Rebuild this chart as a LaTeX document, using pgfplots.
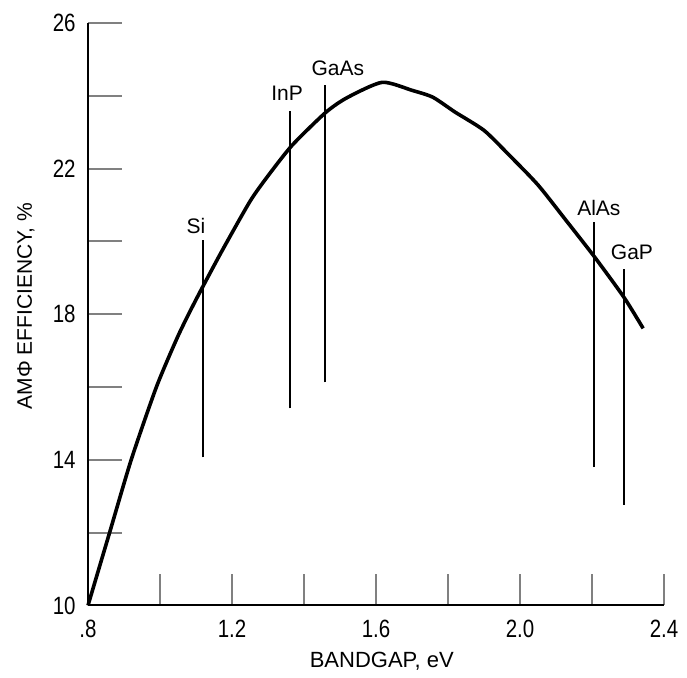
\documentclass[border=0pt]{standalone}
\usepackage{fontspec}
\setmainfont{Liberation Sans}
\newfontfamily\cond[FakeStretch=0.82]{Liberation Sans}
\usepackage{pgfplots}
\pgfplotsset{compat=1.18}

\begin{document}
\begin{tikzpicture}
\begin{axis}[
  scale only axis,
  width=288pt, height=291.2pt,
  xmin=0.8, xmax=2.4, ymin=10, ymax=26,
  axis x line=bottom, axis y line=left,
  axis line style={-, line width=1pt},
  tick align=inside,
  xtick={0.8,1.0,...,2.41},
  xticklabels={.8,,1.2,,1.6,,2.0,,2.4},
  ytick={10,12,...,26},
  yticklabels={10,,14,,18,,22,,26},
  xtick style={line width=1pt, /pgfplots/major tick length=15.5pt},
  ytick style={line width=1pt, /pgfplots/major tick length=17pt},
  ticklabel style={font=\cond\fontsize{12.5}{14}\selectfont},
  xticklabel style={inner sep=0pt, anchor=north, yshift=-7pt},
  yticklabel style={inner sep=0pt, anchor=east, xshift=-6pt},
  xlabel={BANDGAP, eV},
  ylabel={AMΦ EFFICIENCY, \%},
  xlabel style={font=\fontsize{11}{13}\selectfont, at={(rel axis cs:0.51,0)}, anchor=center, yshift=-28pt},
  ylabel style={font=\fontsize{10.5}{12}\selectfont, at={(rel axis cs:0,0.514)}, anchor=center, yshift=31pt},
  clip=false,
]
% efficiency curve
\addplot[black, line width=1.8pt, smooth, tension=0.4] coordinates {
(0.80,10.0) (0.86,12.0) (0.92,14.0) (0.99,16.0) (1.05,17.4) (1.10,18.4)
(1.17,19.7) (1.25,21.1) (1.30,21.8) (1.367,22.64) (1.46,23.54) (1.52,23.95)
(1.617,24.37) (1.70,24.15) (1.758,23.96) (1.82,23.55) (1.90,23.05)
(1.97,22.37) (2.05,21.55) (2.13,20.55) (2.208,19.56) (2.289,18.46) (2.342,17.61)
};
% material bandgaps
\addplot[black, line width=0.9pt] coordinates {(1.12,14.07) (1.12,20.03)};
\addplot[black, line width=0.9pt] coordinates {(1.36,15.41) (1.36,23.57)};
\addplot[black, line width=0.9pt] coordinates {(1.458,16.13) (1.458,24.31)};
\addplot[black, line width=0.9pt] coordinates {(2.205,13.8) (2.205,20.52)};
\addplot[black, line width=0.9pt] coordinates {(2.288,12.77) (2.288,19.23)};
\node[font=\fontsize{10.5}{12}\selectfont] at (axis cs:1.10,20.41) {Si};
\node[font=\fontsize{10.5}{12}\selectfont] at (axis cs:1.353,24.07) {InP};
\node[font=\fontsize{10.5}{12}\selectfont] at (axis cs:1.494,24.75) {GaAs};
\node[font=\fontsize{10.5}{12}\selectfont] at (axis cs:2.219,20.91) {AlAs};
\node[font=\fontsize{10.5}{12}\selectfont] at (axis cs:2.311,19.70) {GaP};
\coordinate (O) at (rel axis cs:0,0);
\coordinate (TR) at (rel axis cs:1,1);
\end{axis}
\pgfresetboundingbox
\path ([shift={(-44pt,-36pt)}]O) rectangle ([shift={(11.5pt,11.5pt)}]TR);
\end{tikzpicture}
\end{document}
